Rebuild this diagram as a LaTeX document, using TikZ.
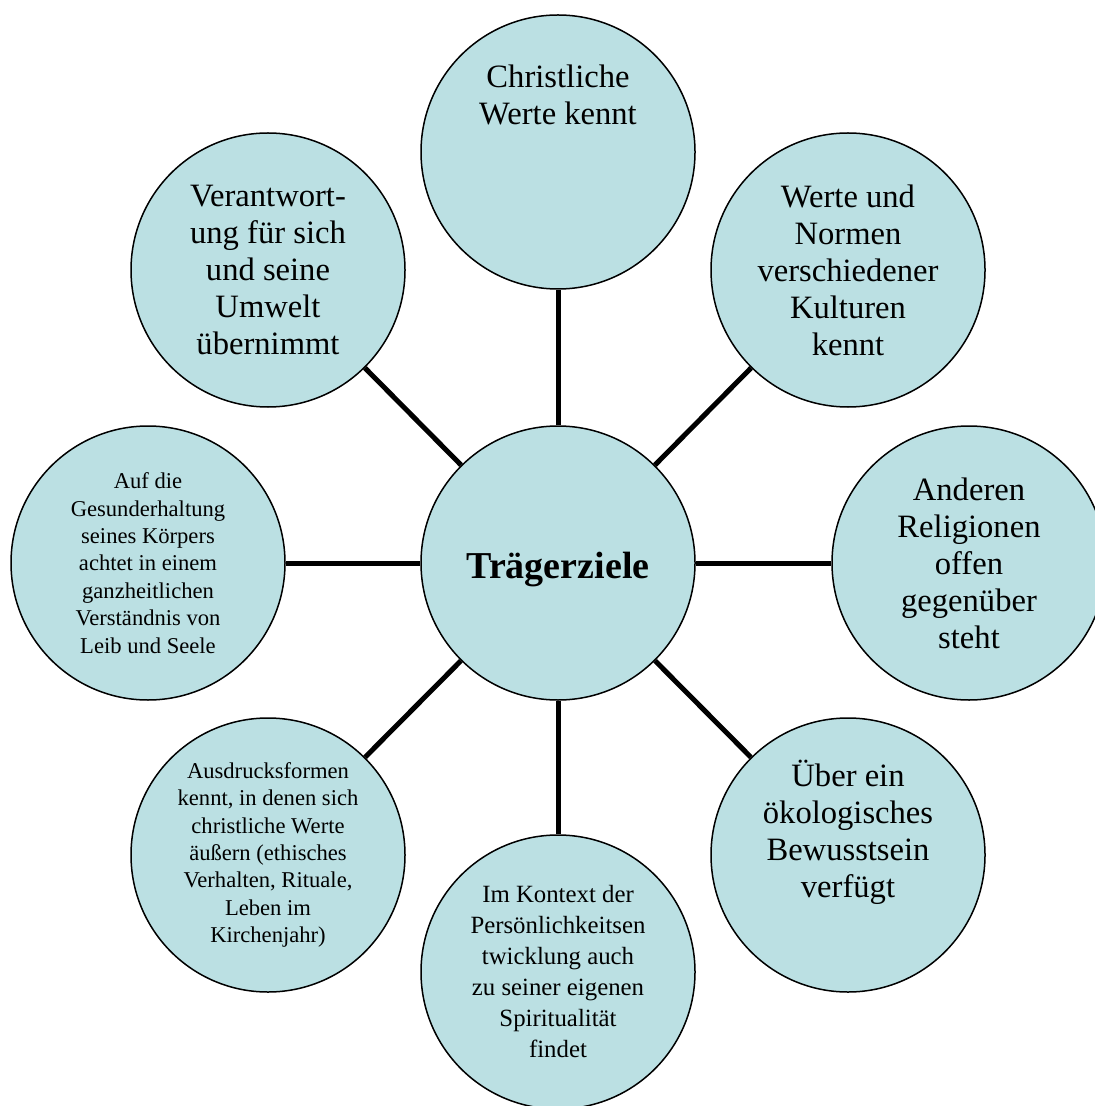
\documentclass[tikz,border=0pt]{standalone}
\usepackage{fontspec}
\setmainfont{Liberation Serif}
\usetikzlibrary{positioning}
\definecolor{Lagoon}{HTML}{BBE0E3}

\begin{document}
\begin{tikzpicture}[x=0.5pt,y=-0.5pt,
  goal/.style={circle,draw=black,line width=0.75pt,fill=Lagoon,minimum size=137pt,
    inner sep=0pt,align=center},
  hub/.style={goal,font=\fontsize{19}{22}\selectfont\bfseries},
  big/.style={align=center,font=\fontsize{16.3}{18.5}\selectfont},
  mid/.style={align=center,font=\fontsize{12.4}{15.5}\selectfont},
  small/.style={align=center,font=\fontsize{11.3}{13.7}\selectfont},
  spoke/.style={line width=2.5pt,draw=black}]
\clip (0,0) rectangle (1095,1106);
% hub and its eight goals
\node[hub](traeger) at (558,563) {\raisebox{-7.5pt}[0pt][0pt]{Trägerziele}};
\node[goal](christ) at (558,152) {};
\node[big](christtxt) at (558,95) {Christliche\\Werte kennt};
\node[goal,big](kulturen) at (848,270) {Werte und\\Normen\\verschiedener\\Kulturen\\kennt};
\node[goal,big](religionen) at (969,563) {Anderen\\Religionen\\offen\\gegenüber\\steht};
\node[goal](oeko) at (848,855) {};
\node[big](oekotxt) at (848,832) {Über ein\\ökologisches\\Bewusstsein\\verfügt};
\node[goal,mid](spirit) at (558,972) {Im Kontext der\\Persönlichkeitsen\\twicklung auch\\zu seiner eigenen\\Spiritualität\\findet};
\node[goal,small](ausdruck) at (268,855) {Ausdrucksformen\\kennt, in denen sich\\christliche Werte\\äußern (ethisches\\Verhalten, Rituale,\\Leben im\\Kirchenjahr)};
\node[goal,small](koerper) at (148,563) {Auf die\\Gesunderhaltung\\seines Körpers\\achtet in einem\\ganzheitlichen\\Verständnis von\\Leib und Seele};
\node[goal,big](verantw) at (268,270) {Verantwort-\\ung für sich\\und seine\\Umwelt\\übernimmt};
% spokes
\foreach \g in {christ,kulturen,religionen,oeko,spirit,ausdruck,koerper,verantw}
  \draw[spoke](traeger)--(\g);
\end{tikzpicture}
\end{document}
